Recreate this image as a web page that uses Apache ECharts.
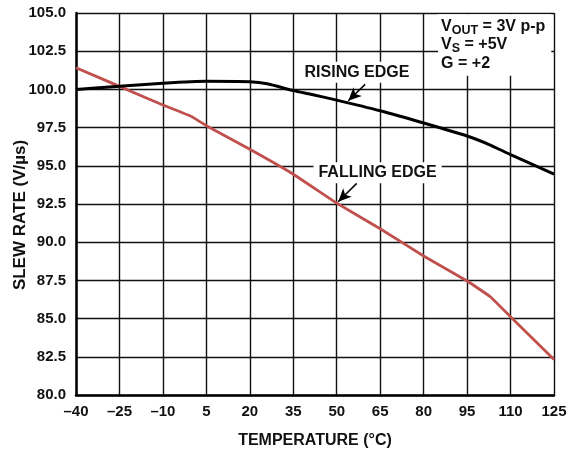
<!DOCTYPE html>
<html>
<head>
<meta charset="utf-8">
<script src="https://cdn.jsdelivr.net/npm/echarts@6/dist/echarts.min.js"></script>
<style>
html,body{margin:0;padding:0;background:#fff;}
#chart{width:579px;height:453px;}
</style>
</head>
<body>
<div id="chart"></div>
<script>
// Temperature (°C) axis
var xMin = -40, xMax = 125, xStep = 15;
// Slew rate (V/µs) axis
var yMin = 80, yMax = 105, yStep = 2.5;

// Rising edge
var risingT = [-40, -25, -10, 5, 20, 26, 35, 41, 50, 65, 80, 95, 103, 110, 125];
var risingV = [100.0, 100.2, 100.4, 100.53, 100.5, 100.37, 99.92, 99.68, 99.3, 98.6, 97.8, 96.95, 96.36, 95.73, 94.46];

// Falling edge
var fallingT = [-40, -25, -10, 0, 5, 20, 35, 50, 65, 80, 95, 103, 110, 125];
var fallingV = [101.42, 100.2, 98.98, 98.21, 97.62, 96.08, 94.45, 92.56, 90.88, 89.1, 87.46, 86.43, 85.12, 82.33];

// Annotations (data coordinates)
var risingLabel = {text: 'RISING EDGE', at: [57.0, 101.12], arrowFrom: [59.8, 100.33], arrowTo: [54.0, 99.26]};
var fallingLabel = {text: 'FALLING EDGE', at: [64.1, 94.55], arrowFrom: [56.9, 93.85], arrowTo: [50.5, 92.65]};
var condAt = [85.0, 102.9];

function pairs(xs, ys) { return xs.map(function (x, i) { return [x, ys[i]]; }); }

var FONT = '"Liberation Sans", Arial, sans-serif';
var chart = echarts.init(document.getElementById('chart'), null, {renderer: 'canvas'});

function textMark(lbl) {
  return {
    coord: lbl.at,
    symbol: 'circle', symbolSize: 1,
    itemStyle: {color: 'rgba(0,0,0,0)'},
    label: {
      show: true, position: 'inside', formatter: lbl.text,
      color: '#111', fontFamily: FONT, fontWeight: 'bold', fontSize: 16,
      backgroundColor: '#fff', padding: [3, 5, 2, 5]
    }
  };
}
function arrowLine(lbl) {
  return [{coord: lbl.arrowFrom}, {coord: lbl.arrowTo}];
}

var option = {
  animation: false,
  backgroundColor: '#fff',
  grid: {left: 76, right: 25, top: 13, bottom: 58, containLabel: false, outerBoundsMode: 'none'},
  xAxis: {
    type: 'value', min: xMin, max: xMax, interval: xStep,
    name: 'TEMPERATURE (°C)', nameLocation: 'middle', nameGap: 38, nameMoveOverlap: false,
    nameTextStyle: {fontFamily: FONT, fontWeight: 'bold', fontSize: 16, color: '#111'},
    axisLine: {show: true, onZero: false, lineStyle: {color: '#000', width: 2.5}},
    axisTick: {show: false},
    axisLabel: {
      margin: 9, fontFamily: FONT, fontWeight: 'bold', fontSize: 15, color: '#111',
      formatter: function (v) { return String(v).replace('-', '\u2013'); }
    },
    splitLine: {show: true, lineStyle: {color: '#111', width: 1.4}}
  },
  yAxis: {
    type: 'value', min: yMin, max: yMax, interval: yStep,
    name: 'SLEW RATE (V/µs)', nameLocation: 'middle', nameGap: 47, nameMoveOverlap: false,
    nameTextStyle: {fontFamily: FONT, fontWeight: 'bold', fontSize: 17, color: '#111', padding: [0, 22, 0, 0]},
    axisLine: {show: true, onZero: false, lineStyle: {color: '#000', width: 2.5}},
    axisTick: {show: false},
    axisLabel: {
      margin: 10, fontFamily: FONT, fontWeight: 'bold', fontSize: 15, color: '#111',
      formatter: function (v) { return v.toFixed(1); }
    },
    splitLine: {show: true, lineStyle: {color: '#111', width: 1.4}}
  },
  series: [
    {
      name: 'Falling Edge', type: 'line', data: pairs(fallingT, fallingV),
      showSymbol: false, symbol: 'none', smooth: 0.1, z: 3,
      lineStyle: {color: '#C0504D', width: 2.8},
      markPoint: {
        silent: true, z: 6,
        data: [textMark(fallingLabel)]
      },
      markLine: {
        silent: true, z: 7, symbol: ['none', 'arrow'], symbolSize: [9, 13],
        label: {show: false},
        lineStyle: {color: '#000', width: 1.5, type: 'solid'},
        data: [arrowLine(fallingLabel)]
      }
    },
    {
      name: 'Rising Edge', type: 'line', data: pairs(risingT, risingV),
      showSymbol: false, symbol: 'none', smooth: 0.2, z: 4,
      lineStyle: {color: '#000', width: 3},
      markPoint: {
        silent: true, z: 6,
        data: [
          textMark(risingLabel),
          {
            coord: condAt, symbol: 'circle', symbolSize: 1,
            itemStyle: {color: 'rgba(0,0,0,0)'},
            label: {
              show: true, position: 'inside', align: 'left', verticalAlign: 'middle',
              backgroundColor: '#fff', padding: [3, 6, 3, 3],
              formatter: '{a|V}{s|OUT}{a| = 3V p-p}\n{a|V}{s|S}{a| = +5V}\n{a|G = +2}',
              rich: {
                a: {fontFamily: FONT, fontWeight: 'bold', fontSize: 16, color: '#111', lineHeight: 18.5},
                s: {fontFamily: FONT, fontWeight: 'bold', fontSize: 12.5, color: '#111', lineHeight: 18.5, padding: [7, 0, 0, 0]}
              }
            }
          }
        ]
      },
      markLine: {
        silent: true, z: 7, symbol: ['none', 'arrow'], symbolSize: [9, 13],
        label: {show: false},
        lineStyle: {color: '#000', width: 1.5, type: 'solid'},
        data: [arrowLine(risingLabel)]
      }
    }
  ]
};
chart.setOption(option);
</script>
</body>
</html>
